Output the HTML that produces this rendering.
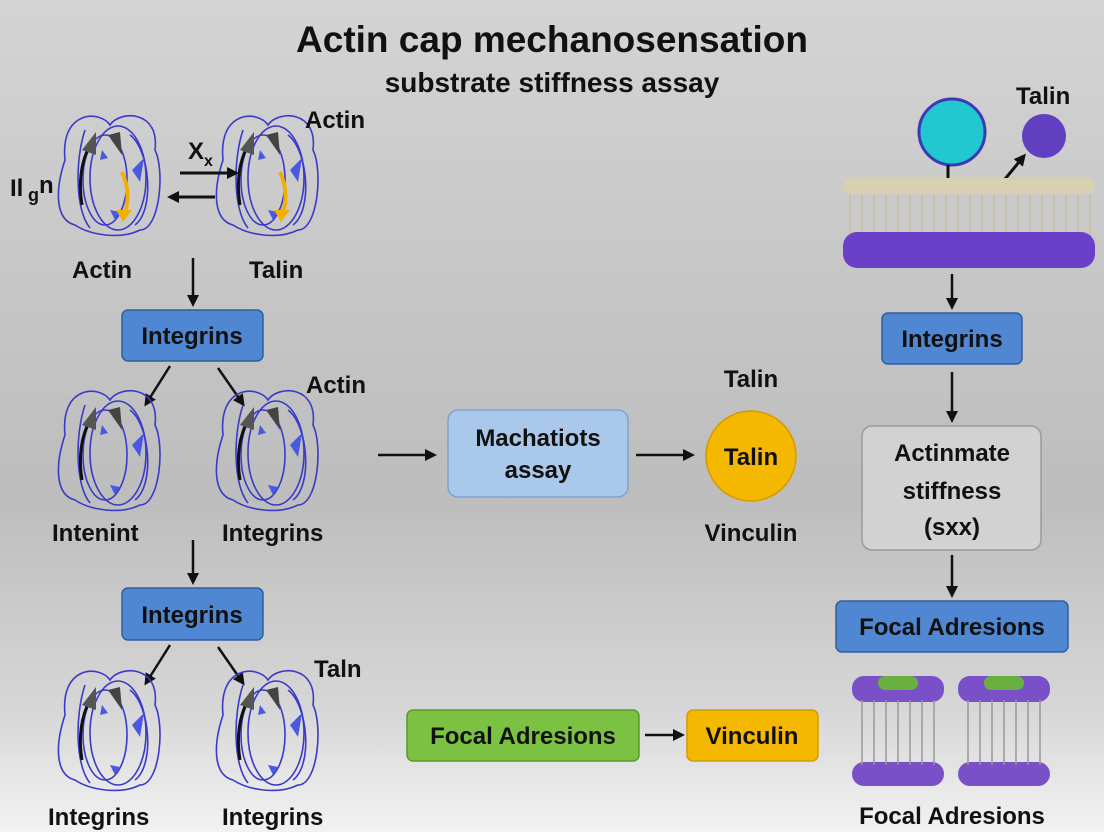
<!DOCTYPE html>
<html><head><meta charset="utf-8"><style>
html,body{margin:0;padding:0}
body{width:1104px;height:832px;overflow:hidden;background:linear-gradient(#d4d4d4 0%,#c4c4c4 40%,#bdbdbd 60%,#d6d6d6 85%,#f2f2f2 100%);font-family:"Liberation Sans",sans-serif}
</style></head><body>
<svg width="1104" height="832" viewBox="0 0 1104 832" xmlns="http://www.w3.org/2000/svg" style="position:absolute;left:0;top:0">
<defs>
<marker id="ah" markerWidth="12" markerHeight="12" refX="9" refY="6" orient="auto" markerUnits="userSpaceOnUse"><path d="M0,0 L12,6 L0,12 z" fill="#111"/></marker>
<g id="prot">
 <g fill="none" stroke="#3a3ac8" stroke-width="1.6">
  <path d="M-45,-20 C-50,-70 -10,-70 0,-55 C10,-70 50,-70 45,-30 C55,-10 50,50 30,50 C10,60 -20,55 -35,45 C-55,40 -55,10 -45,-20z"/>
  <ellipse cx="-5" cy="0" rx="22" ry="45"/>
  <ellipse cx="8" cy="-2" rx="28" ry="52"/>
  <path d="M-25,-50 C-35,-20 -35,30 -20,48"/>
  <path d="M20,-45 C40,-30 45,30 25,45"/>
 </g>
 <path d="M-28,25 C-32,0 -28,-20 -20,-35" stroke="#111" stroke-width="3" fill="none"/>
 <path d="M-28,-30 L-14,-48 L-14,-25z" fill="#555"/>
 <path d="M-2,-45 L10,-48 L12,-25z" fill="#444"/>
 <path d="M22,-10 L34,-22 L30,2z" fill="#4a5ae0"/>
 <path d="M-8,-30 L-2,-22 L-10,-20z" fill="#4a5ae0"/>
 <path d="M0,30 L10,32 L5,40z" fill="#4a5ae0"/>
</g>
<g id="protY">
 <use href="#prot"/>
 <path d="M12,-8 C20,10 18,25 14,35" stroke="#f0b000" stroke-width="4" fill="none"/>
 <path d="M6,30 L22,30 L13,42z" fill="#f0b000"/>
</g>
</defs>

<text x="552" y="52" text-anchor="middle" font-size="37" font-weight="bold" fill="#111">Actin cap mechanosensation</text>
<text x="552" y="92" text-anchor="middle" font-size="28" font-weight="bold" fill="#111">substrate stiffness assay</text>

<use href="#protY" transform="translate(110,180)"/>
<use href="#protY" transform="translate(268,180)"/>
<text x="10" y="196" font-size="24" font-weight="bold" fill="#111">Il</text><text x="28" y="201" font-size="18" font-weight="bold" fill="#111">g</text><text x="39" y="193" font-size="24" font-weight="bold" fill="#111">n</text>
<text x="188" y="159" font-size="24" font-weight="bold" fill="#111">X</text><text x="204" y="166" font-size="16" font-weight="bold" fill="#111">x</text>
<line x1="180" y1="173" x2="236" y2="173" stroke="#111" stroke-width="3" marker-end="url(#ah)"/>
<line x1="215" y1="197" x2="170" y2="197" stroke="#111" stroke-width="3" marker-end="url(#ah)"/>
<text x="305" y="128" font-size="24" font-weight="bold" fill="#111">Actin</text>
<text x="72" y="278" font-size="24" font-weight="bold" fill="#111">Actin</text>
<text x="249" y="278" font-size="24" font-weight="bold" fill="#111">Talin</text>
<line x1="193" y1="258" x2="193" y2="304" stroke="#111" stroke-width="2.5" marker-end="url(#ah)"/>

<rect x="122" y="310" width="141" height="51" rx="6" fill="#4f87d2" stroke="#2f5e9e" stroke-width="1.5"/>
<text x="192" y="344" text-anchor="middle" font-size="24" font-weight="bold" fill="#111">Integrins</text>
<line x1="170" y1="366" x2="146" y2="404" stroke="#111" stroke-width="2.5" marker-end="url(#ah)"/>
<line x1="218" y1="368" x2="243" y2="404" stroke="#111" stroke-width="2.5" marker-end="url(#ah)"/>
<text x="306" y="393" font-size="24" font-weight="bold" fill="#111">Actin</text>
<use href="#prot" transform="translate(110,455)"/>
<use href="#prot" transform="translate(268,455)"/>
<text x="52" y="541" font-size="24" font-weight="bold" fill="#111">Intenint</text>
<text x="222" y="541" font-size="24" font-weight="bold" fill="#111">Integrins</text>
<line x1="193" y1="540" x2="193" y2="582" stroke="#111" stroke-width="2.5" marker-end="url(#ah)"/>

<rect x="122" y="588" width="141" height="52" rx="6" fill="#4f87d2" stroke="#2f5e9e" stroke-width="1.5"/>
<text x="192" y="623" text-anchor="middle" font-size="24" font-weight="bold" fill="#111">Integrins</text>
<line x1="170" y1="645" x2="146" y2="683" stroke="#111" stroke-width="2.5" marker-end="url(#ah)"/>
<line x1="218" y1="647" x2="243" y2="683" stroke="#111" stroke-width="2.5" marker-end="url(#ah)"/>
<text x="314" y="677" font-size="24" font-weight="bold" fill="#111">Taln</text>
<use href="#prot" transform="translate(110,735)"/>
<use href="#prot" transform="translate(268,735)"/>
<text x="48" y="825" font-size="24" font-weight="bold" fill="#111">Integrins</text>
<text x="222" y="825" font-size="24" font-weight="bold" fill="#111">Integrins</text>

<line x1="378" y1="455" x2="434" y2="455" stroke="#111" stroke-width="2.5" marker-end="url(#ah)"/>
<rect x="448" y="410" width="180" height="87" rx="10" fill="#a9c8ea" stroke="#7ea4d0" stroke-width="1.5"/>
<text x="538" y="446" text-anchor="middle" font-size="24" font-weight="bold" fill="#111">Machatiots</text>
<text x="538" y="478" text-anchor="middle" font-size="24" font-weight="bold" fill="#111">assay</text>
<line x1="636" y1="455" x2="692" y2="455" stroke="#111" stroke-width="2.5" marker-end="url(#ah)"/>
<text x="751" y="387" text-anchor="middle" font-size="24" font-weight="bold" fill="#111">Talin</text>
<circle cx="751" cy="456" r="45" fill="#f5b800" stroke="#d49a00" stroke-width="1.5"/>
<text x="751" y="465" text-anchor="middle" font-size="24" font-weight="bold" fill="#111">Talin</text>
<text x="751" y="541" text-anchor="middle" font-size="24" font-weight="bold" fill="#111">Vinculin</text>

<rect x="407" y="710" width="232" height="51" rx="6" fill="#7cc242" stroke="#5a9a2a" stroke-width="1.5"/>
<text x="523" y="744" text-anchor="middle" font-size="24" font-weight="bold" fill="#111">Focal Adresions</text>
<line x1="645" y1="735" x2="682" y2="735" stroke="#111" stroke-width="2.5" marker-end="url(#ah)"/>
<rect x="687" y="710" width="131" height="51" rx="6" fill="#f5b800" stroke="#d49a00" stroke-width="1.5"/>
<text x="752" y="744" text-anchor="middle" font-size="24" font-weight="bold" fill="#111">Vinculin</text>

<text x="1016" y="104" font-size="24" font-weight="bold" fill="#111">Talin</text>
<circle cx="952" cy="132" r="33" fill="#22c8d0" stroke="#3a3ab8" stroke-width="3"/>
<circle cx="1044" cy="136" r="22" fill="#6040c0"/>
<line x1="948" y1="165" x2="948" y2="190" stroke="#111" stroke-width="3"/>
<line x1="996" y1="190" x2="1024" y2="156" stroke="#111" stroke-width="3" marker-end="url(#ah)"/>
<g stroke="#c8bfa0" stroke-width="1.5">
<line x1="850" y1="185" x2="850" y2="245"/><line x1="862" y1="185" x2="862" y2="245"/><line x1="874" y1="185" x2="874" y2="245"/><line x1="886" y1="185" x2="886" y2="245"/><line x1="898" y1="185" x2="898" y2="245"/><line x1="910" y1="185" x2="910" y2="245"/><line x1="922" y1="185" x2="922" y2="245"/><line x1="934" y1="185" x2="934" y2="245"/><line x1="946" y1="185" x2="946" y2="245"/><line x1="958" y1="185" x2="958" y2="245"/><line x1="970" y1="185" x2="970" y2="245"/><line x1="982" y1="185" x2="982" y2="245"/><line x1="994" y1="185" x2="994" y2="245"/><line x1="1006" y1="185" x2="1006" y2="245"/><line x1="1018" y1="185" x2="1018" y2="245"/><line x1="1030" y1="185" x2="1030" y2="245"/><line x1="1042" y1="185" x2="1042" y2="245"/><line x1="1054" y1="185" x2="1054" y2="245"/><line x1="1066" y1="185" x2="1066" y2="245"/><line x1="1078" y1="185" x2="1078" y2="245"/><line x1="1090" y1="185" x2="1090" y2="245"/>
</g>
<rect x="843" y="178" width="252" height="16" rx="8" fill="#d8d0b0"/>
<rect x="843" y="232" width="252" height="36" rx="14" fill="#6a40c8"/>
<line x1="952" y1="274" x2="952" y2="307" stroke="#111" stroke-width="2.5" marker-end="url(#ah)"/>
<rect x="882" y="313" width="140" height="51" rx="6" fill="#4f87d2" stroke="#2f5e9e" stroke-width="1.5"/>
<text x="952" y="347" text-anchor="middle" font-size="24" font-weight="bold" fill="#111">Integrins</text>
<line x1="952" y1="372" x2="952" y2="420" stroke="#111" stroke-width="2.5" marker-end="url(#ah)"/>
<rect x="862" y="426" width="179" height="124" rx="10" fill="#d2d2d2" stroke="#9a9a9a" stroke-width="1.5"/>
<text x="952" y="461" text-anchor="middle" font-size="24" font-weight="bold" fill="#111">Actinmate</text>
<text x="952" y="499" text-anchor="middle" font-size="24" font-weight="bold" fill="#111">stiffness</text>
<text x="952" y="535" text-anchor="middle" font-size="24" font-weight="bold" fill="#111">(sxx)</text>
<line x1="952" y1="555" x2="952" y2="595" stroke="#111" stroke-width="2.5" marker-end="url(#ah)"/>
<rect x="836" y="601" width="232" height="51" rx="6" fill="#4f87d2" stroke="#2f5e9e" stroke-width="1.5"/>
<text x="952" y="635" text-anchor="middle" font-size="24" font-weight="bold" fill="#111">Focal Adresions</text>
<g>
 <rect x="852" y="676" width="92" height="26" rx="12" fill="#7a50c8"/>
 <rect x="878" y="676" width="40" height="14" rx="7" fill="#6ab040"/>
 <rect x="852" y="762" width="92" height="24" rx="12" fill="#7a50c8"/>
 <rect x="958" y="676" width="92" height="26" rx="12" fill="#7a50c8"/>
 <rect x="984" y="676" width="40" height="14" rx="7" fill="#6ab040"/>
 <rect x="958" y="762" width="92" height="24" rx="12" fill="#7a50c8"/>
 <g stroke="#999" stroke-width="1.5">
 <line x1="862" y1="700" x2="862" y2="765"/><line x1="874" y1="700" x2="874" y2="765"/><line x1="886" y1="700" x2="886" y2="765"/><line x1="898" y1="700" x2="898" y2="765"/><line x1="910" y1="700" x2="910" y2="765"/><line x1="922" y1="700" x2="922" y2="765"/><line x1="934" y1="700" x2="934" y2="765"/>
 <line x1="968" y1="700" x2="968" y2="765"/><line x1="980" y1="700" x2="980" y2="765"/><line x1="992" y1="700" x2="992" y2="765"/><line x1="1004" y1="700" x2="1004" y2="765"/><line x1="1016" y1="700" x2="1016" y2="765"/><line x1="1028" y1="700" x2="1028" y2="765"/><line x1="1040" y1="700" x2="1040" y2="765"/>
 </g>
</g>
<text x="952" y="824" text-anchor="middle" font-size="24" font-weight="bold" fill="#111">Focal Adresions</text>
</svg>
</body></html>
